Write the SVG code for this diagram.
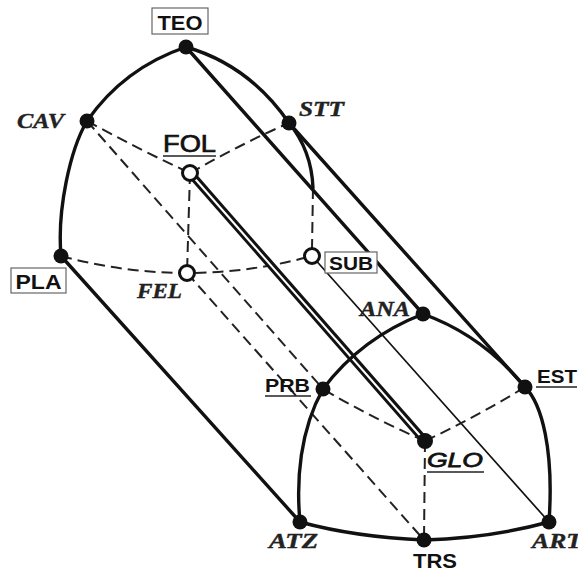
<svg xmlns="http://www.w3.org/2000/svg" width="578" height="571" viewBox="0 0 578 571">
<style>
.edge{fill:none;stroke:#111;stroke-width:3.4;stroke-linecap:round}
.thin{fill:none;stroke:#111;stroke-width:1.7}
.dash{fill:none;stroke:#222;stroke-width:2;stroke-dasharray:11 6}
.dot{fill:#111}
.open{fill:#fff;stroke:#111;stroke-width:3}
.box{fill:#fff;stroke:#666;stroke-width:1.2}
.bs{font-family:"Liberation Sans",Arial,sans-serif;font-weight:bold;fill:#111}
.ns{font-family:"Liberation Sans",Arial,sans-serif;fill:#111;stroke:#111;stroke-width:0.7}
.is{font-family:"Liberation Sans",Arial,sans-serif;font-style:italic;fill:#111;stroke:#111;stroke-width:0.8}
.sr{font-family:"Liberation Serif","Times New Roman",serif;font-style:italic;font-weight:bold;fill:#222;stroke:#222;stroke-width:0.4}
.ul{stroke:#222;stroke-width:1.6}
</style>
<rect width="578" height="571" fill="#fff"/>
<g id="connectors">
  <!-- back face outline -->
  <path class="edge" d="M186,47 Q124,68 87,121"/>
  <path class="edge" d="M87,121 C70,150 57,210 61,256"/>
  <path class="edge" d="M186,47 Q249,65 289,123"/>
  <path class="edge" d="M289,123 C303,140 312,162 313,188"/>
  <path class="dash" d="M313,188 L312,249"/>
  <!-- back face internal dashed -->
  <path class="dash" d="M87,121 Q140,150 190,173"/>
  <path class="dash" d="M190,173 Q245,142 289,123"/>
  <path class="dash" d="M190,173 L187,273"/>
  <path class="dash" d="M61,256 Q187,290 312,256"/>
  <!-- long parallel edges -->
  <line class="edge" x1="186" y1="47" x2="423" y2="314"/>
  <line class="edge" x1="289" y1="123" x2="525" y2="387"/>
  <line class="edge" x1="61" y1="256" x2="300" y2="522"/>
  <line class="dash" x1="87" y1="121" x2="323" y2="389"/>
  <line class="dash" x1="187" y1="273" x2="424" y2="540"/>
  <line class="thin" x1="312" y1="256" x2="549" y2="522"/>
  <!-- FOL - GLO double line -->
  <line x1="190" y1="173" x2="425" y2="441" stroke="#111" stroke-width="8"/>
  <line x1="193" y1="176.5" x2="420" y2="435.5" stroke="#fff" stroke-width="2"/>
  <!-- front face outline -->
  <path class="edge" d="M323,389 Q361,338 423,314"/>
  <path class="edge" d="M423,314 Q482,335 525,387"/>
  <path class="edge" d="M525,387 C542,404 554,450 549,522"/>
  <path class="edge" d="M549,522 Q490,538 424,540"/>
  <path class="edge" d="M424,540 Q355,537 300,522"/>
  <path class="edge" d="M300,522 C296,480 300,430 323,389"/>
  <!-- front face internal dashed -->
  <path class="dash" d="M425,441 Q372,418 323,389"/>
  <path class="dash" d="M425,441 Q478,416 525,387"/>
  <path class="dash" d="M425,441 L424,540"/>
</g>
<g id="TEO">
  <circle class="dot" cx="186" cy="47" r="7.5"/>
  <rect class="box" x="152" y="8" width="56" height="26"/>
  <text class="bs" x="180" y="30" font-size="20" text-anchor="middle" textLength="45" lengthAdjust="spacingAndGlyphs">TEO</text>
</g>
<g id="CAV">
  <circle class="dot" cx="87" cy="121" r="7.5"/>
  <text class="sr" x="17" y="128" font-size="22" textLength="47" lengthAdjust="spacingAndGlyphs">CAV</text>
</g>
<g id="STT">
  <circle class="dot" cx="289" cy="123" r="7.5"/>
  <text class="sr" x="299" y="116" font-size="21" textLength="45" lengthAdjust="spacingAndGlyphs">STT</text>
</g>
<g id="FOL">
  <circle class="open" cx="190" cy="173" r="7.5"/>
  <text class="ns" x="163" y="152" font-size="23" textLength="53" lengthAdjust="spacingAndGlyphs">FOL</text>
  <line class="ul" x1="163" y1="156" x2="216" y2="156"/>
</g>
<g id="PLA">
  <circle class="dot" cx="61" cy="256" r="7.5"/>
  <rect class="box" x="11" y="268" width="55" height="25"/>
  <text class="bs" x="38.5" y="289" font-size="20" text-anchor="middle" textLength="46" lengthAdjust="spacingAndGlyphs">PLA</text>
</g>
<g id="FEL">
  <circle class="open" cx="187" cy="273" r="7.5"/>
  <text class="sr" x="137" y="298" font-size="21" textLength="45" lengthAdjust="spacingAndGlyphs">FEL</text>
</g>
<g id="SUB">
  <circle class="open" cx="312" cy="256" r="7.5"/>
  <rect class="box" x="325" y="252" width="52" height="21"/>
  <text class="bs" x="351" y="270" font-size="19" text-anchor="middle" textLength="44" lengthAdjust="spacingAndGlyphs">SUB</text>
</g>
<g id="ANA">
  <circle class="dot" cx="423" cy="314" r="7.5"/>
  <text class="sr" x="360" y="316" font-size="20" textLength="50" lengthAdjust="spacingAndGlyphs">ANA</text>
</g>
<g id="EST">
  <circle class="dot" cx="525" cy="387" r="7.5"/>
  <text class="bs" x="537" y="383" font-size="19" textLength="40" lengthAdjust="spacingAndGlyphs">EST</text>
  <line class="ul" x1="536" y1="387" x2="577" y2="387"/>
</g>
<g id="PRB">
  <circle class="dot" cx="323" cy="389" r="7.5"/>
  <text class="bs" x="265" y="392" font-size="19" textLength="45" lengthAdjust="spacingAndGlyphs">PRB</text>
  <line class="ul" x1="265" y1="396" x2="311" y2="396"/>
</g>
<g id="GLO">
  <circle class="dot" cx="425" cy="441" r="8"/>
  <text class="is" x="427" y="467" font-size="21" textLength="56" lengthAdjust="spacingAndGlyphs">GLO</text>
  <line class="ul" x1="427" y1="472" x2="484" y2="472"/>
</g>
<g id="ATZ">
  <circle class="dot" cx="300" cy="522" r="7.5"/>
  <text class="sr" x="269" y="548" font-size="22" textLength="49" lengthAdjust="spacingAndGlyphs">ATZ</text>
</g>
<g id="TRS">
  <circle class="dot" cx="424" cy="540" r="7.5"/>
  <text class="bs" x="413" y="568" font-size="20" textLength="44" lengthAdjust="spacingAndGlyphs">TRS</text>
</g>
<g id="ART">
  <circle class="dot" cx="549" cy="522" r="7.5"/>
  <text class="sr" x="532" y="548" font-size="22" textLength="50" lengthAdjust="spacingAndGlyphs">ART</text>
</g>
</svg>
